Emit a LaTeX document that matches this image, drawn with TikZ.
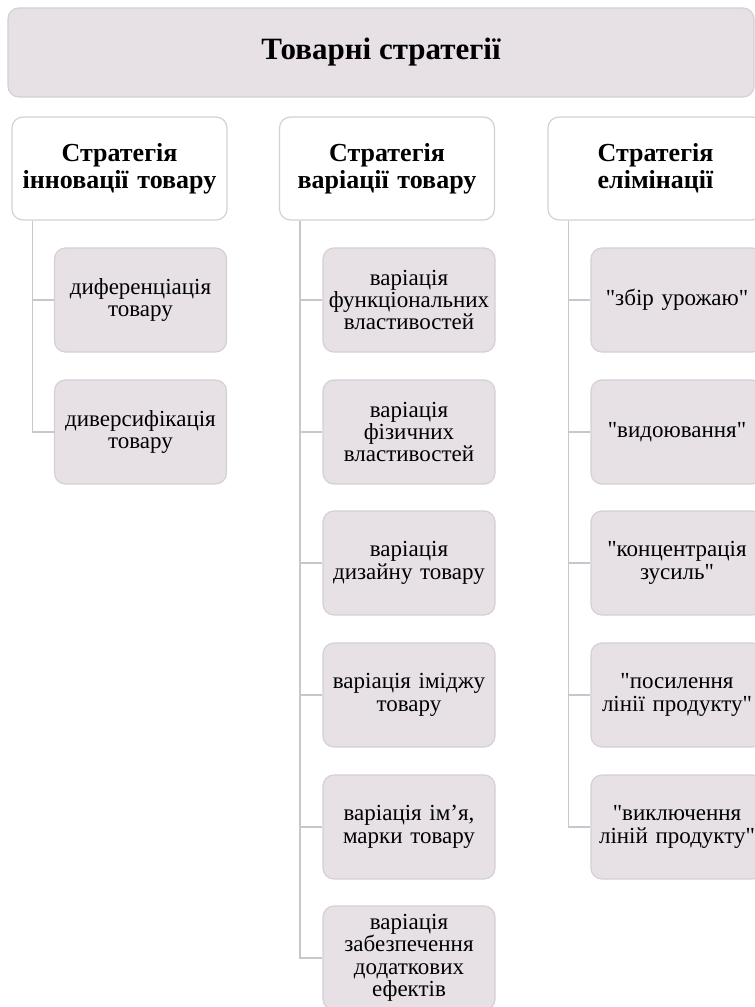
\documentclass[tikz,border=0pt]{standalone}
\usepackage{fontspec}
\setmainfont{Liberation Serif}[Ligatures=TeXOff]
\usetikzlibrary{calc}
\definecolor{boxfill}{HTML}{E7E1E6}
\definecolor{boxline}{HTML}{D4D0D7}
\definecolor{connline}{HTML}{CAC6CE}
\tikzset{
  titlebox/.style={draw=boxline, fill=boxfill, line width=1.2pt, rounded corners=11pt,
    minimum width=746pt, minimum height=89pt, inner sep=0pt,
    font=\fontsize{31}{34}\selectfont\bfseries},
  headbox/.style={draw=boxline, fill=white, line width=1.2pt, rounded corners=11pt,
    minimum width=215pt, minimum height=103pt, inner sep=0pt, align=center,
    text width=210pt, font=\fontsize{26}{27}\selectfont\bfseries},
  itembox/.style={draw=boxline, fill=boxfill, line width=1.2pt, rounded corners=11pt,
    minimum width=172pt, minimum height=104pt, inner sep=0pt, align=center,
    text width=170pt, font=\fontsize{23}{22.4}\selectfont},
  conn/.style={draw=connline, line width=1.5pt}
}
\begin{document}
\begin{tikzpicture}[x=1pt,y=-1pt]
  \useasboundingbox (0,0) rectangle (755,1007);
  \begin{scope}
  \clip (0,0) rectangle (755,1007);

  % top level
  \node[titlebox] (top) at (381,52.5) {Товарні стратегії};

  % strategy headers
  \node[headbox] (h1) at (119.5,168.5) {Стратегія\\інновації товару};
  \node[headbox] (h2) at (387,168.5) {Стратегія\\варіації товару};
  \node[headbox] (h3) at (655.5,168.5) {Стратегія\\елімінації};

  % innovation items
  \node[itembox] (a1) at (140.5,300) {диференціація\\товару};
  \node[itembox] (a2) at (140.5,432) {диверсифікація\\товару};

  % variation items
  \node[itembox] (b1) at (409,300) {варіація\\функціональних\\властивостей};
  \node[itembox] (b2) at (409,432) {варіація\\фізичних\\властивостей};
  \node[itembox] (b3) at (409,563) {варіація\\дизайну товару};
  \node[itembox] (b4) at (409,695) {варіація іміджу\\товару};
  \node[itembox] (b5) at (409,827) {варіація ім’я,\\марки товару};
  \node[itembox] (b6) at (409,958) {варіація\\забезпечення\\додаткових\\ефектів};

  % elimination items
  \node[itembox] (c1) at (677,300) {"збір урожаю"};
  \node[itembox] (c2) at (677,432) {"видоювання"};
  \node[itembox] (c3) at (677,563) {"концентрація\\зусиль"};
  \node[itembox] (c4) at (677,695) {"посилення\\лінії продукту"};
  \node[itembox] (c5) at (677,827) {"виключення\\ліній продукту"};

  % trunk start points under each header
  \coordinate (t1) at ($(h1.south west)+(21,0)$);
  \coordinate (t2) at ($(h2.south west)+(21,0)$);
  \coordinate (t3) at ($(h3.south west)+(21,0)$);

  % connectors
  \draw[conn] (t1) |- (a2.west);
  \draw[conn] (t1 |- a1.west) -- (a1.west);

  \draw[conn] (t2) |- (b6.west);
  \foreach \n in {b1,b2,b3,b4,b5}
    \draw[conn] (t2 |- \n.west) -- (\n.west);

  \draw[conn] (t3) |- (c5.west);
  \foreach \n in {c1,c2,c3,c4}
    \draw[conn] (t3 |- \n.west) -- (\n.west);
  \end{scope}
\end{tikzpicture}
\end{document}
